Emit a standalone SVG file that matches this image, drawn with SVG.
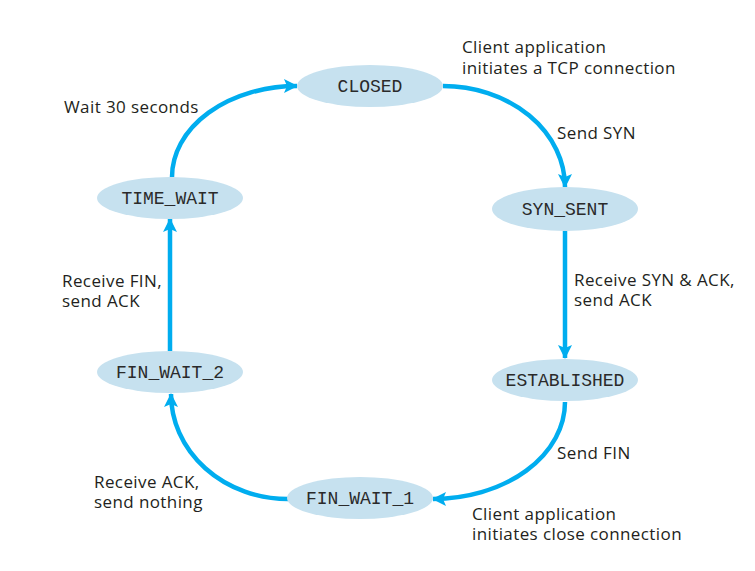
<svg xmlns="http://www.w3.org/2000/svg" width="755" height="571" viewBox="0 0 755 571">
<defs>
<style>
.state{fill:#c6e1ef;stroke:none}
.st{font-family:"Liberation Mono","Courier New",monospace;font-size:18px;fill:#2a2a2a;text-anchor:middle}
.lb{font-family:"Open Sans","Noto Sans",sans-serif;font-size:17px;letter-spacing:0.4px;fill:#231f20}
.edge{fill:none;stroke:#00adef;stroke-width:4.5;marker-end:url(#ah)}
</style>
<marker id="ah" markerUnits="userSpaceOnUse" markerWidth="14" markerHeight="14" viewBox="0 0 14 14" refX="13" refY="7" orient="auto">
<path d="M0,0 L14,7 L0,14 L3,7 Z" fill="#00adef"/>
</marker>
</defs>
<rect width="755" height="571" fill="#ffffff"/>
<g id="connectors">
<path class="edge" d="M443,86 A122,101 0 0 1 565,187"/>
<path class="edge" d="M565,231 L565,358"/>
<path class="edge" d="M565,402 A132,97 0 0 1 433,499"/>
<path class="edge" d="M288,499 A117,105 0 0 1 171,394"/>
<path class="edge" d="M170,351 L170,219"/>
<path class="edge" d="M172,177 A125,91 0 0 1 297,86"/>
</g>
<g id="closed"><ellipse class="state" cx="370" cy="86" rx="73" ry="21"/><text class="st" x="370" y="92">CLOSED</text></g>
<g id="syn_sent"><ellipse class="state" cx="565" cy="209" rx="73" ry="22"/><text class="st" x="565" y="215">SYN_SENT</text></g>
<g id="established"><ellipse class="state" cx="565" cy="380" rx="73" ry="21"/><text class="st" x="565" y="386">ESTABLISHED</text></g>
<g id="fin_wait_1"><ellipse class="state" cx="360" cy="498" rx="73" ry="21"/><text class="st" x="360" y="504">FIN_WAIT_1</text></g>
<g id="fin_wait_2"><ellipse class="state" cx="170" cy="372" rx="73" ry="21"/><text class="st" x="170" y="378">FIN_WAIT_2</text></g>
<g id="time_wait"><ellipse class="state" cx="170" cy="198" rx="73" ry="21"/><text class="st" x="170" y="204">TIME_WAIT</text></g>
<g id="labels">
<text class="lb" x="462" y="53">Client application<tspan x="462" dy="21">initiates a TCP connection</tspan></text>
<text class="lb" x="557" y="139">Send SYN</text>
<text class="lb" x="574" y="286">Receive SYN &amp; ACK,<tspan x="574" dy="20">send ACK</tspan></text>
<text class="lb" x="557" y="459">Send FIN</text>
<text class="lb" x="472" y="520">Client application<tspan x="472" dy="20">initiates close connection</tspan></text>
<text class="lb" x="94" y="488">Receive ACK,<tspan x="94" dy="20">send nothing</tspan></text>
<text class="lb" x="62" y="287">Receive FIN,<tspan x="62" dy="20">send ACK</tspan></text>
<text class="lb" x="64" y="113">Wait 30 seconds</text>
</g>
</svg>
